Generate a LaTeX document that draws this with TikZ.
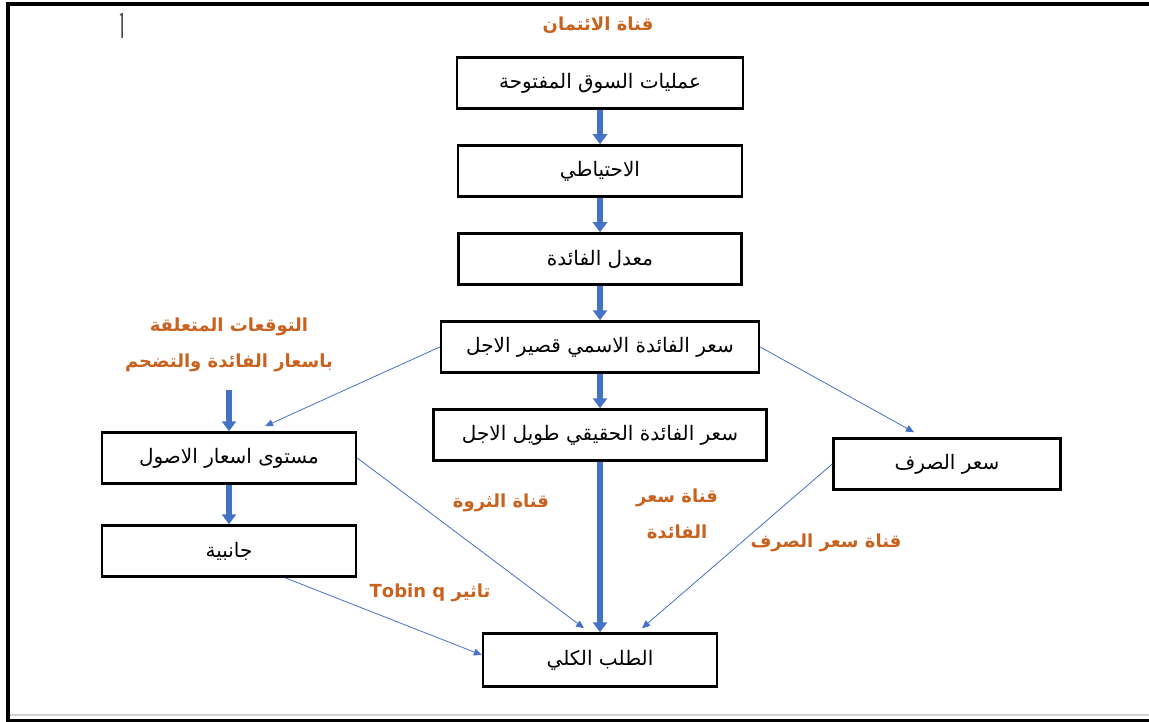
\documentclass[tikz,border=0pt]{standalone}
\usepackage{fontspec}
\newfontfamily\arabicfont[Script=Arabic]{DejaVu Sans}
\TeXXeTstate=1
\usetikzlibrary{arrows.meta,positioning}
\definecolor{chanblue}{HTML}{4472C4}
\definecolor{chanorange}{HTML}{C8621E}
\newcommand{\artext}[1]{{\arabicfont\beginR #1\endR}}

\begin{document}
\begin{tikzpicture}[x=1pt,y=-1pt,node distance=88pt,
    >={Triangle[width=14pt,length=10pt]}]

  \tikzstyle{box}=[rectangle,draw=black,line width=2.5pt,minimum height=51pt,
                   inner sep=0pt,font=\fontsize{20}{24}\selectfont]
  \tikzstyle{channel}=[text=chanorange,align=center,inner sep=0pt,
                       font=\fontsize{18}{36}\selectfont\bfseries]
  \tikzstyle{thick link}=[->,draw=chanblue,line width=5.5pt]
  \tikzstyle{thin link}=[-{Triangle[width=7pt,length=8pt]},draw=chanblue,line width=0.8pt]

  \useasboundingbox (0,0) rectangle (1149,722);
  % page frame
  \fill[black] (6,2) rectangle (1149,6);
  \fill[black] (6,2) rectangle (10,722);
  \fill[black] (6,719) rectangle (1149,722);
  \fill[black!18] (10,714) rectangle (1149,716);
  \draw[line width=1.5pt,black!70] (120,15) -- (122,14) -- (122,38);

  % central column
  \node [channel] (credit) at (598,25) {\artext{قناة الائتمان}};
  \node [box,minimum width=286pt] (oms) at (600,83)   {\artext{عمليات السوق المفتوحة}};
  \node [box,minimum width=284pt] (res) [below of=oms] {\artext{الاحتياطي}};
  \node [box,minimum width=283pt] (rate) [below of=res] {\artext{معدل الفائدة}};
  \node [box,minimum width=318pt] (nom) [below of=rate] {\artext{سعر الفائدة الاسمي قصير الاجل}};
  \node [box,minimum width=333pt] (real) [below of=nom] {\artext{سعر الفائدة الحقيقي طويل الاجل}};
  \node [box,minimum width=234pt,minimum height=53pt] (ad) at (600,660) {\artext{الطلب الكلي}};

  % side boxes
  \node [box,minimum width=254pt] (ast) at (229,458) {\artext{مستوى اسعار الاصول}};
  \node [box,minimum width=254pt] (tob) [below of=ast,yshift=-5pt] {\artext{جانبية}};
  \node [box,minimum width=227pt] (fx) at (947,464) {\artext{سعر الصرف}};

  % channel labels
  \node [channel] (expect) at (229,345)
    {\artext{التوقعات المتعلقة}\\\artext{باسعار الفائدة والتضحم}};
  \node [channel] (wealth) at (501,503) {\artext{قناة الثروة}};
  \node [channel] (irate) at (677,514) {\artext{قناة سعر}\\\artext{الفائدة}};
  \node [channel] (exch) at (826,543) {\artext{قناة سعر الصرف}};
  \node [channel] (tobin) at (430,593) {\artext{تاثير \beginL Tobin q\endL}};

  % arrows
  \draw [thick link] (oms) -- (res);
  \draw [thick link] (res) -- (rate);
  \draw [thick link] (rate) -- (nom);
  \draw [thick link] (nom) -- (real);
  \draw [thick link] (real) -- (ad);
  \draw [thick link,shorten <=18pt] (expect.south -| ast.north) -- (ast);
  \draw [thick link] (ast) -- (tob);

  \draw [thin link] (nom.west) -- ([xshift=36pt,yshift=5pt]ast.north);
  \draw [thin link] (nom.east) -- ([xshift=-33pt,yshift=5pt]fx.north);
  \draw [thin link] (ast.east) -- ([xshift=-16pt,yshift=4pt]ad.north);
  \draw [thin link] ([xshift=56pt]tob.south) -- ([yshift=5pt]ad.west);
  \draw [thin link] (fx.west) -- ([xshift=42pt,yshift=4pt]ad.north);
\end{tikzpicture}
\end{document}
